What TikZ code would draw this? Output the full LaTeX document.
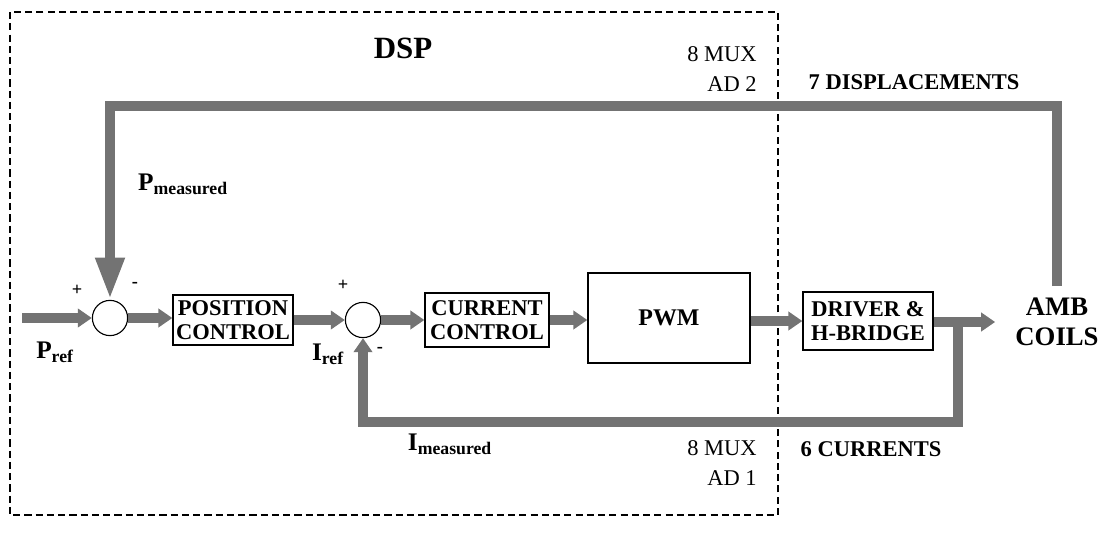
\documentclass[tikz,border=0pt]{standalone}
\usepackage{fontspec}
\setmainfont{Liberation Serif}
\usetikzlibrary{positioning,arrows.meta,calc}

\begin{document}
\begin{tikzpicture}[x=0.025cm,y=-0.025cm,
		blk/.style={draw,line width=0.9pt,inner sep=2pt,align=center,font=\fontsize{16}{17}\selectfont\bfseries},
		sum/.style={draw,circle,line width=0.8pt,minimum size=0.88cm,inner sep=0pt},
		sig/.style={line width=7.5pt,draw=black!55,line join=miter,-{Triangle[width=13pt,length=10pt]}},
		bigtip/.style={-{Triangle[width=19pt,length=30pt]}},
		var/.style={inner sep=0pt,font=\fontsize{18}{20}\selectfont\bfseries},
		sgn/.style={inner sep=0pt,font=\fontsize{13}{14}\selectfont\bfseries},
		mux/.style={inner sep=0pt,align=right,font=\fontsize{16}{21}\selectfont},
		cnt/.style={inner sep=0pt,font=\fontsize{16}{18}\selectfont\bfseries}]
	\useasboundingbox (0,0) rectangle (1107,533);
	% DSP frame
	\draw[line width=1pt,dash pattern=on 5pt off 3pt] (10,12) rectangle (778,515);
	\node[font=\fontsize{22}{24}\selectfont\bfseries] (dsp) at (403,48) {DSP};
	\node[mux] (mux2) at (722,69) {8 MUX\\AD 2};
	\node[mux] (mux1) at (722,463) {8 MUX\\AD 1};
	% blocks
	\node[sum] (sum1) at (110,318) {};
	\node[blk,minimum width=3.0cm,minimum height=1.25cm] (pos) at (233,320) {POSITION\\CONTROL};
	\node[sum] (sum2) at (363,320) {};
	\node[blk,minimum width=3.1cm,minimum height=1.35cm] (cur) at (487,320) {CURRENT\\CONTROL};
	\node[blk,minimum width=4.05cm,minimum height=2.25cm,font=\fontsize{17}{18}\selectfont\bfseries] (pwm) at (669,318) {PWM};
	\node[blk,minimum width=3.25cm,minimum height=1.45cm] (drv) at (868,321) {DRIVER \&\\H-BRIDGE};
	\node[align=center,inner xsep=0.5cm,inner ysep=0.3cm,font=\fontsize{19}{21}\selectfont\bfseries] (amb) at (1057,322) {AMB\\COILS};
	\coordinate (in) at (22,318);
	\coordinate (tap) at (958,321);
	% forward path
	\draw[sig] (in) -- (sum1);
	\draw[sig] (sum1) -- (sum1 -| pos.west);
	\draw[sig] (pos) -- (sum2);
	\draw[sig] (sum2) -- (cur);
	\draw[sig] (cur) -- (pwm.west |- cur);
	\draw[sig] (pwm.east |- drv) -- (drv);
	\draw[sig] (drv.east |- amb) -- (amb);
	% feedback
	\draw[sig,bigtip] (amb) -- (amb |- 0,106) -| (sum1);
	\draw[sig] (tap) -- ++(0,101) -| (sum2);
	% labels
	\node[var] (pref) at (55,352) {P\textsubscript{ref}};
	\node[var] (pmeas) at (183,184) {P\textsubscript{measured}};
	\node[var] (iref) at (328,354) {I\textsubscript{ref}};
	\node[var] (imeas) at (450,444) {I\textsubscript{measured}};
	\node[sgn] (p1) at (77,290) {+};
	\node[sgn] (m1) at (135,285) {-};
	\node[sgn] (p2) at (343,285) {+};
	\node[sgn] (m2) at (380,350) {-};
	\node[cnt] (disp) at (914,82) {7 DISPLACEMENTS};
	\node[cnt] (curs) at (871,449) {6 CURRENTS};
\end{tikzpicture}
\end{document}
